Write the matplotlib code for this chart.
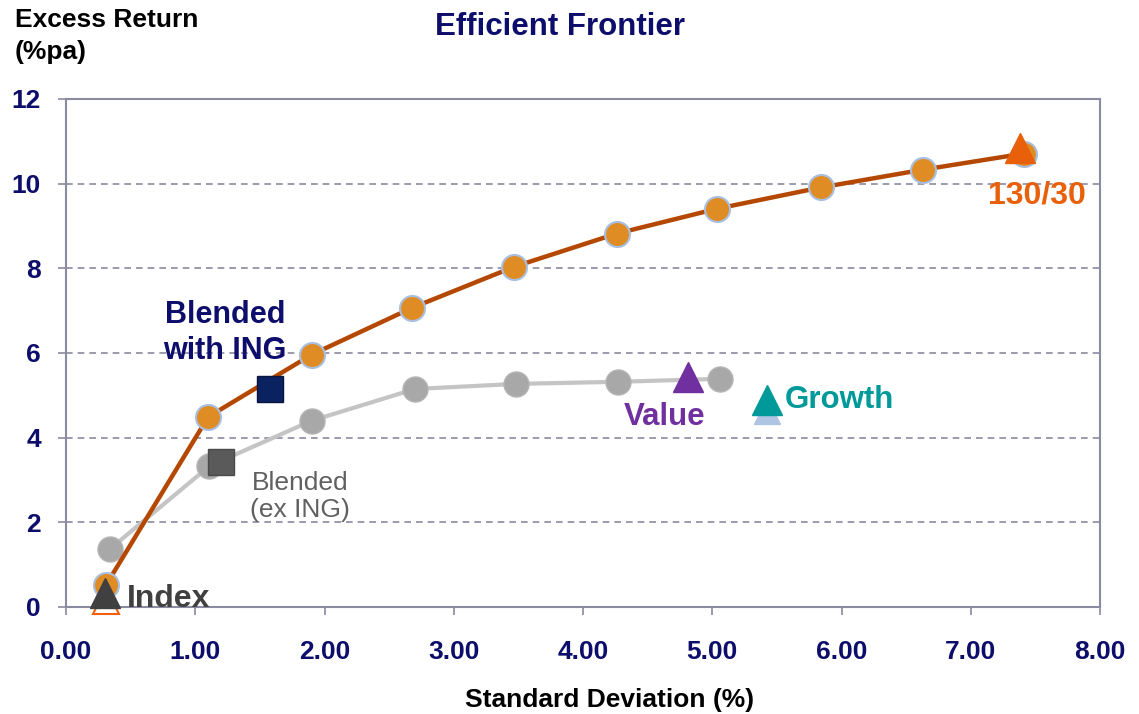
import matplotlib
matplotlib.use("Agg")
import matplotlib.pyplot as plt

plt.rcParams['font.family'] = ['Liberation Sans', 'DejaVu Sans']

# frontier with 130/30 (orange) and blended frontier excluding ING (grey)
frontier_sd = [0.31, 1.10, 1.90, 2.68, 3.47, 4.26, 5.04, 5.84, 6.63, 7.41]
frontier_ret = [0.52, 4.49, 5.96, 7.07, 8.04, 8.82, 9.41, 9.91, 10.33, 10.71]
exing_sd = [0.34, 1.11, 1.90, 2.70, 3.48, 4.27, 5.06]
exing_ret = [1.37, 3.33, 4.40, 5.15, 5.27, 5.32, 5.39]

# single portfolios
blend_ing = (1.58, 5.15)
blend_exing = (1.20, 3.43)
index_pt = (0.30, 0.33)
index_low = (0.31, 0.15)
p13030 = (7.38, 10.85)
value_pt = (4.81, 5.43)
growth_pt = (5.42, 4.89)
growth_shadow = (5.42, 4.62)

xticks = [0, 1, 2, 3, 4, 5, 6, 7, 8]
yticks = [0, 2, 4, 6, 8, 10, 12]

navy = '#0D0D6B'
axis_col = '#8A8AA0'

fig = plt.figure(figsize=(11.39, 7.14), dpi=100)
ax = fig.add_axes([66 / 1139, 1 - 607 / 714, (1100 - 66) / 1139, (607 - 99) / 714])

for y in yticks[1:-1]:
    ax.axhline(y, color=axis_col, lw=1.2, ls=(0, (4, 3)), zorder=1)

ax.plot(exing_sd, exing_ret, color='#C4C4C4', lw=3, marker='o', ms=18,
        mfc='#A8A8A8', mec='#B4B4B4', mew=1, zorder=2)
ax.plot(frontier_sd, frontier_ret, color='#B54800', lw=3.2, marker='o', ms=18,
        mfc='#E08C25', mec='#A9BFE0', mew=1.5, zorder=3)

ax.plot(*blend_exing, marker='s', ms=19, mfc='#5A5A5A', mec='#4A4A4A', zorder=4)
ax.plot(*blend_ing, marker='s', ms=19, mfc='#0B2260', mec='#0A1440', zorder=4)
ax.plot(*index_low, marker='^', ms=19, mfc='white', mec='#F06010', mew=1.5, zorder=4, clip_on=False)
ax.plot(*index_pt, marker='^', ms=21, mfc='#404040', mec='#404040', zorder=5, clip_on=False)
ax.plot(*p13030, marker='^', ms=21, mfc='#E8600A', mec='#E8600A', zorder=5)
ax.plot(*value_pt, marker='^', ms=21, mfc='#7030A0', mec='#7030A0', zorder=5)
ax.plot(*growth_shadow, marker='^', ms=19, mfc='#B0C4E4', mec='#B0C4E4', zorder=4)
ax.plot(*growth_pt, marker='^', ms=21, mfc='#009999', mec='#009999', zorder=5)

ax.text(1.23, 6.47, 'Blended\nwith ING', color=navy, fontsize=22, fontweight='bold',
        ha='center', va='center', linespacing=1.25, zorder=6)
ax.text(1.81, 2.62, 'Blended\n(ex ING)', color='#606060', fontsize=19,
        ha='center', va='center', linespacing=1.15, zorder=6)
ax.text(0.47, 0.2, 'Index', color='#404040', fontsize=23, fontweight='bold',
        ha='left', va='center', zorder=6)
ax.text(4.63, 4.48, 'Value', color='#7030A0', fontsize=22.5, fontweight='bold',
        ha='center', va='center', zorder=6)
ax.text(5.56, 4.88, 'Growth', color='#009999', fontsize=22.5, fontweight='bold',
        ha='left', va='center', zorder=6)
ax.text(7.51, 9.71, '130/30', color='#E8600A', fontsize=23, fontweight='bold',
        ha='center', va='center', zorder=6)

ax.set_xlim(0, 8)
ax.set_ylim(0, 12)
ax.set_xticks(xticks)
ax.set_xticklabels([f'{v:.2f}' for v in xticks])
ax.set_yticks(yticks)
ax.tick_params(axis='both', colors=axis_col, length=6, width=1.2, labelcolor=navy,
               labelsize=19)
ax.tick_params(axis='x', pad=18)
ax.tick_params(axis='y', pad=12)
for lab in ax.get_xticklabels() + ax.get_yticklabels():
    lab.set_fontweight('bold')
for side in ['left', 'right', 'top', 'bottom']:
    ax.spines[side].set_color(axis_col)
    ax.spines[side].set_linewidth(1.5)

fig.text(560 / 1139, 1 - 27 / 714, 'Efficient Frontier', color=navy, fontsize=22.5,
         fontweight='bold', ha='center', va='center')
fig.text(15 / 1139, 1 - 36 / 714, 'Excess Return\n(%pa)', color='black', fontsize=19,
         fontweight='bold', ha='left', va='center', linespacing=1.4)
fig.text(610 / 1139, 1 - 700 / 714, 'Standard Deviation (%)', color='black', fontsize=19,
         fontweight='bold', ha='center', va='center')

fig.savefig('out.png', dpi=100, facecolor='white')
